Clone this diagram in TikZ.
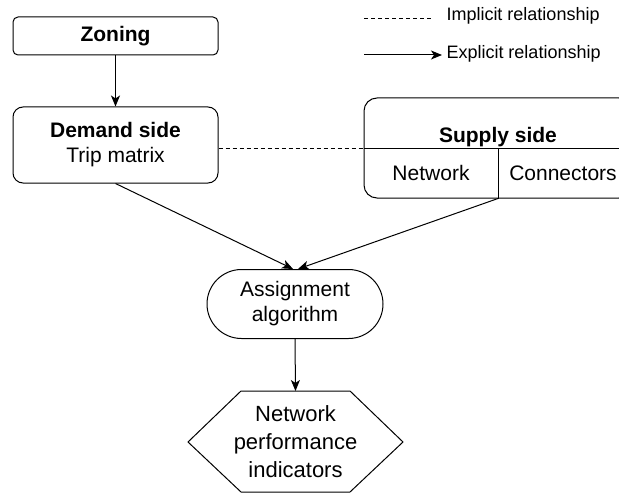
\documentclass[tikz,border=0pt]{standalone}
\usepackage{fontspec}
\setmainfont{Liberation Sans}
\usetikzlibrary{arrows.meta}
\begin{document}
\begin{tikzpicture}[x=1pt,y=-1pt,
  line width=1pt,
  box/.style={draw, line width=1pt, inner sep=0pt, align=center, font=\fontsize{21}{25}\selectfont},
  arr/.style={-{Stealth[length=11pt,width=9pt,inset=3pt]}, line width=1pt},
  lbl/.style={inner sep=0pt, align=center, font=\fontsize{21}{25}\selectfont},
  leg/.style={inner sep=0pt, anchor=west, font=\fontsize{18}{21}\selectfont},
  dashline/.style={dash pattern=on 4pt off 3pt, line width=1pt},
]
\useasboundingbox (0,0) rectangle (619,495);
\begin{scope}
\clip (0,0) rectangle (619,495);
% Zoning
\node[box, rounded corners=5pt, minimum width=205pt, minimum height=38pt] (zoning) at (115.5,36) {\textbf{Zoning}};
% Demand side
\node[box, rounded corners=10pt, minimum width=205pt, minimum height=76pt] (demand) at (115.5,145) {\textbf{Demand side}\\Trip matrix};
% Supply side
\node[draw, line width=1pt, rounded corners=13pt, minimum width=268pt, minimum height=100pt, inner sep=0pt] (supply) at (498,148) {};
\draw (supply.west) -- (supply.east);
\draw (supply.center) -- (supply.south);
\node[lbl] (supplylbl) at (498,137) {\textbf{Supply side}};
\node[lbl] (network) at (431,173) {Network};
\node[lbl] (connectors) at (563,173) {Connectors};
% Assignment
\node[box, rounded corners=34.5pt, minimum width=176pt, minimum height=69pt] (assign) at (295,304) {Assignment\\algorithm};
% Hexagon
\draw (188,442) -- (241,391) -- (350,391) -- (403,442) -- (350,492) -- (241,492) -- cycle;
\node[lbl, font=\fontsize{22}{28}\selectfont] (npi) at (295.5,442) {Network\\performance\\indicators};
\coordinate (hextop) at (295.5,391);
% Connectors
\draw[arr] (zoning.south) -- (demand.north);
\draw[dashline] (demand.east |- supply.west) -- (supply.west);
\draw[arr] (demand.south) -- ([xshift=-2pt]assign.north);
\draw[arr] (supply.south) -- ([xshift=3pt]assign.north);
\draw[arr] (assign.south) -- (hextop);
% Legend
\node[leg] (impl) at (446,16) {Implicit relationship};
\node[leg] (expl) at (446,54) {Explicit relationship};
\coordinate (la) at (364,19);
\coordinate (lb) at (432,19);
\coordinate (lc) at (364,55);
\draw[dashline] (la) -- (lb);
\draw[arr] (lc) -- ([xshift=-4pt]expl.west |- lc);
\end{scope}
\end{tikzpicture}
\end{document}
